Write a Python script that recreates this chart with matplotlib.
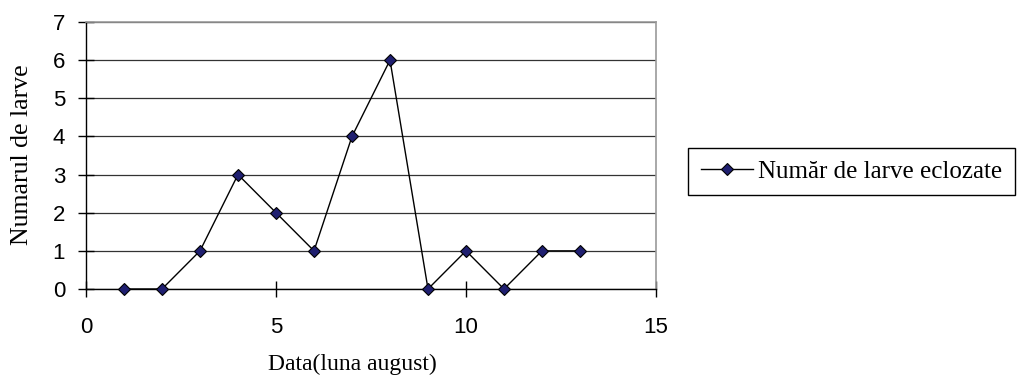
import matplotlib
matplotlib.use("Agg")
import matplotlib.pyplot as plt

days = [1, 2, 3, 4, 5, 6, 7, 8, 9, 10, 11, 12, 13]
larvae = [0, 0, 1, 3, 2, 1, 4, 6, 0, 1, 0, 1, 1]
x_ticks = [0, 5, 10, 15]
y_ticks = [0, 1, 2, 3, 4, 5, 6, 7]
series_label = "Număr de larve eclozate"
x_label = "Data(luna august)"
y_label = "Numarul de larve"

fig = plt.figure(figsize=(10.24, 3.79), dpi=100)
ax = fig.add_axes([86/1024, 1-289/379, (656-86)/1024, (289-22)/379])

line, = ax.plot(days, larvae, color="black", linewidth=1.0, marker="D",
                markersize=6.5, markerfacecolor="#1f1f70", markeredgecolor="black",
                markeredgewidth=0.8, label=series_label, clip_on=False, zorder=3)

ax.set_xlim(0, 15)
ax.set_ylim(0, 7)
ax.set_xticks(x_ticks)
ax.set_yticks(y_ticks)
ax.yaxis.grid(True, color="#333333", linewidth=0.9)
ax.set_axisbelow(True)

for s in ["top", "right"]:
    ax.spines[s].set_color("#999999")
    ax.spines[s].set_linewidth(1.2)
for s in ["left", "bottom"]:
    ax.spines[s].set_color("black")
    ax.spines[s].set_linewidth(1.0)

ax.tick_params(axis="y", direction="inout", length=12, width=1, pad=9, labelsize=16)
ax.tick_params(axis="x", direction="inout", length=12, width=1, pad=14, labelsize=16)
for lab in ax.get_xticklabels() + ax.get_yticklabels():
    lab.set_fontfamily(["Liberation Sans", "DejaVu Sans"])

serif = ["Liberation Serif", "DejaVu Serif"]
fig.text(352/1024, 1-364/379, x_label, ha="center", va="center",
         fontsize=17, family=serif)
fig.text(22/1024, 1-155/379, y_label, ha="center", va="center",
         rotation=90, fontsize=18.5, family=serif)

leg = fig.legend(handles=[line], loc="center left",
                 bbox_to_anchor=(688/1024, 1-171.5/379),
                 prop={"family": serif, "size": 18}, frameon=True,
                 fancybox=False, edgecolor="black", framealpha=1,
                 handlelength=2.1, borderpad=0.5, handletextpad=0.2,
                 borderaxespad=0)
leg.get_frame().set_linewidth(1.0)

fig.savefig("out.png", dpi=100)
